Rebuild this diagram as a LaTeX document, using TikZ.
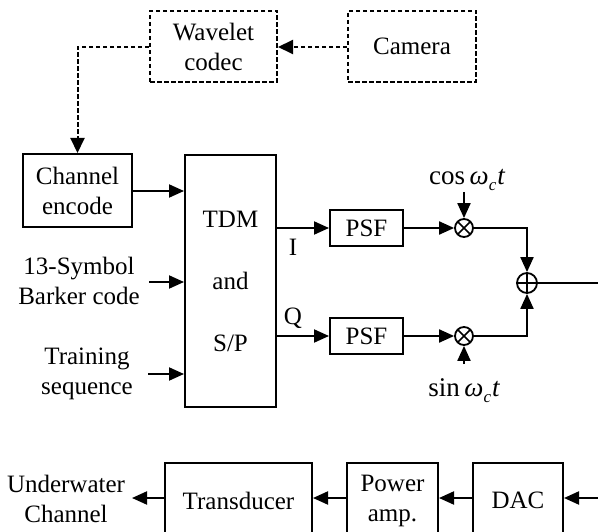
\documentclass[tikz,border=0pt]{standalone}
\usepackage{fontspec}
\setmainfont{Liberation Serif}
\usetikzlibrary{arrows.meta}
\begin{document}
\begin{tikzpicture}[x=1pt,y=-1pt,
  font=\fontsize{25}{30}\selectfont,
  blk/.style={draw, line width=2pt, inner sep=0pt, align=center},
  dblk/.style={draw, line width=2pt, inner sep=0pt, align=center, dash pattern=on 4.5pt off 2.5pt},
  lbl/.style={inner sep=0pt, align=center},
  arr/.style={line width=2pt, -{Triangle[length=15pt,width=13pt]}},
  darr/.style={line width=2pt, dash pattern=on 4.5pt off 2.5pt, -{Triangle[length=15pt,width=14pt]}},
  ln/.style={line width=2pt},
  mult/.style={circle, draw, line width=1.8pt, minimum size=18pt, inner sep=0pt,
    path picture={\draw[line width=1.6pt] (path picture bounding box.north west) -- (path picture bounding box.south east)
      (path picture bounding box.south west) -- (path picture bounding box.north east);}},
  addr/.style={circle, draw, line width=1.8pt, minimum size=20pt, inner sep=0pt,
    path picture={\draw[line width=1.6pt] (path picture bounding box.north) -- (path picture bounding box.south)
      (path picture bounding box.west) -- (path picture bounding box.east);}},
  osc/.style={inner sep=0pt, anchor=base, font=\fontsize{27}{30}\selectfont}
]
\useasboundingbox (0,0) rectangle (598,532);
\clip (0,0) rectangle (598,532);
\fill[white] (0,0) rectangle (598,532);

% top dashed blocks
\node[dblk, minimum width=127pt, minimum height=71pt] (wav) at (213.5,46.5) {Wavelet\\codec};
\node[dblk, minimum width=128pt, minimum height=71pt] (cam) at (412,46.5) {Camera};

% main blocks
\node[blk, minimum width=109pt, minimum height=73pt] (ce) at (77.5,190.5) {Channel\\encode};
\node[blk, minimum width=91pt, minimum height=252pt, font=\fontsize{25}{62}\selectfont] (tdm) at (230.5,281) {TDM\\and\\S/P};
\node[lbl] (bark) at (79,281) {13-Symbol\\Barker code};
\node[lbl] (train) at (87,374) {Training\\sequence};

\node[blk, minimum width=73pt, minimum height=36pt] (psf1) at (366.5,228) {PSF};
\node[blk, minimum width=73pt, minimum height=36pt] (psf2) at (366.5,336) {PSF};
\node[mult] (m1) at (464,228) {};
\node[mult] (m2) at (464,336) {};
\node[addr] (add) at (527,283) {};

\node[osc] (cosl) at (467,185) {cos\,{\itshape ω\raisebox{-6pt}{\fontsize{17}{17}\selectfont c}\kern1pt t}};
\node[osc] (sinl) at (464,396) {sin\,{\itshape ω\raisebox{-6pt}{\fontsize{17}{17}\selectfont c}\kern1pt t}};

\node[lbl] (Il) at (293,247) {I};
\node[lbl] (Ql) at (293,318) {Q};

% bottom row
\node[blk, minimum width=147pt, minimum height=75pt] (trans) at (238.5,500.5) {Transducer};
\node[blk, minimum width=91pt, minimum height=75pt] (pamp) at (392.5,500.5) {Power\\amp.};
\node[blk, minimum width=90pt, minimum height=75pt] (dac) at (518,500.5) {DAC};
\node[lbl] (uw) at (66,499) {Underwater\\Channel};

\coordinate (outR) at (598,283);
\coordinate (inR) at (598,498);

% connectors
\draw[darr] (cam.west |- 0,47) -- (wav.east |- 0,47);
\draw[darr] (wav.west |- 0,47) -| (ce.north);
\draw[arr] (ce.east |- 0,191) -- (tdm.west |- 0,191);
\draw[arr] (149,282) -- (tdm.west |- 0,282);
\draw[arr] (148,374) -- (tdm.west |- 0,374);
\draw[arr] (tdm.east |- psf1.west) -- (psf1.west);
\draw[arr] (tdm.east |- psf2.west) -- (psf2.west);
\draw[arr] (psf1.east) -- (m1.west);
\draw[arr] (psf2.east) -- (m2.west);
\draw[arr] (464,192) -- (m1.north);
\draw[arr] (464,364) -- (m2.south);
\draw[arr] (m1.east) -| (add.north);
\draw[arr] (m2.east) -| (add.south);
\draw[ln] (add.east) -- (outR);

\draw[arr] (inR) -- (dac.east |- inR);
\draw[arr] (dac.west |- inR) -- (pamp.east |- inR);
\draw[arr] (pamp.west |- inR) -- (trans.east |- inR);
\draw[arr] (trans.west |- inR) -- (132,498);
\end{tikzpicture}
\end{document}
